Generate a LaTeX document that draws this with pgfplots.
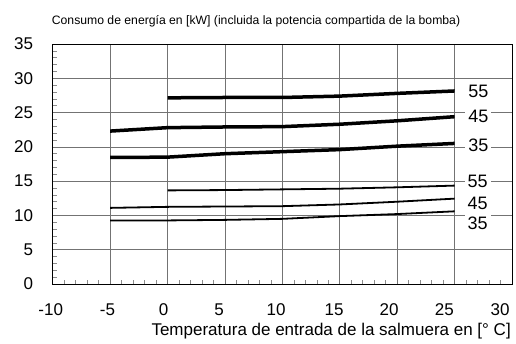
\documentclass[border=0pt]{standalone}
\usepackage{pgfplots}
\pgfplotsset{compat=1.18}
\usepackage{fontspec}
\setmainfont{Liberation Sans}
\begin{document}
\begin{tikzpicture}
\useasboundingbox (-52.7bp,-60bp) rectangle (463.3bp,284bp);
\begin{axis}[
  scale only axis, width=459.3bp, height=240bp,
  xmin=-10, xmax=30, ymin=0, ymax=35,
  xtick={-10,-5,...,30}, ytick={0,5,...,35},
  xticklabels={},
  minor x tick num=4, minor y tick num=4,
  tick pos=left, tick align=inside,
  grid=major, major grid style={black!55, line width=0.6bp},
  major tick length=0pt, minor tick length=4bp,
  minor tick style={black!45, line width=0.5bp},
  axis line style={black, line width=0.8bp},
  /pgf/number format/assume math mode=true,
  ticklabel style={font=\fontsize{17bp}{19bp}\selectfont, inner sep=0pt},
  yticklabel style={anchor=east, xshift=-19.4bp},
  clip=false,
]
\addplot[black, line width=3.5bp] coordinates {(0,27.15) (5,27.2) (10,27.2) (15,27.4) (20,27.8) (25,28.15)};
\addplot[black, line width=3.5bp] coordinates {(-5,22.3) (0,22.8) (5,22.9) (10,22.95) (15,23.3) (20,23.8) (25,24.4)};
\addplot[black, line width=3.5bp] coordinates {(-5,18.45) (0,18.5) (5,19.0) (10,19.3) (15,19.6) (20,20.1) (25,20.5)};
\addplot[black, line width=1.8bp] coordinates {(0,13.65) (5,13.7) (10,13.8) (15,13.9) (20,14.1) (25,14.35)};
\addplot[black, line width=1.8bp] coordinates {(-5,11.1) (0,11.25) (5,11.3) (10,11.35) (15,11.6) (20,12.0) (25,12.45)};
\addplot[black, line width=1.8bp] coordinates {(-5,9.27) (0,9.27) (5,9.35) (10,9.5) (15,9.9) (20,10.2) (25,10.6)};
\begin{scope}[every node/.style={fill=white, inner sep=3bp, font=\fontsize{18bp}{20bp}\selectfont}]
\node at (axis cs:27.07,28.15) {55};
\node at (axis cs:27.07,24.4) {45};
\node at (axis cs:27.07,20.2) {35};
\node at (axis cs:27.0,14.98) {55};
\node at (axis cs:27.0,11.7) {45};
\node at (axis cs:27.0,8.85) {35};
\end{scope}
\begin{scope}[every node/.style={anchor=base, inner sep=0pt, yshift=-31bp, font=\fontsize{17bp}{19bp}\selectfont}]
\node at (axis cs:-10.17,0) {-10};
\node at (axis cs:-5.23,0) {-5};
\node at (axis cs:-0.35,0) {0};
\node at (axis cs:4.49,0) {5};
\node at (axis cs:9.46,0) {10};
\node at (axis cs:14.51,0) {15};
\node at (axis cs:19.3,0) {20};
\node at (axis cs:24.1,0) {25};
\node at (axis cs:28.97,0) {30};
\end{scope}
\node[anchor=base west, inner sep=0pt, font=\fontsize{12.2bp}{14bp}\selectfont] at ([xshift=-1bp, yshift=20bp]rel axis cs:0,1) {Consumo de energía en [kW] (incluida la potencia compartida de la bomba)};
\node[anchor=base east, inner sep=0pt, font=\fontsize{17bp}{19bp}\selectfont] at ([xshift=-1bp, yshift=-51bp]rel axis cs:1,0) {Temperatura de entrada de la salmuera en [° C]};
\end{axis}
\end{tikzpicture}
\end{document}
